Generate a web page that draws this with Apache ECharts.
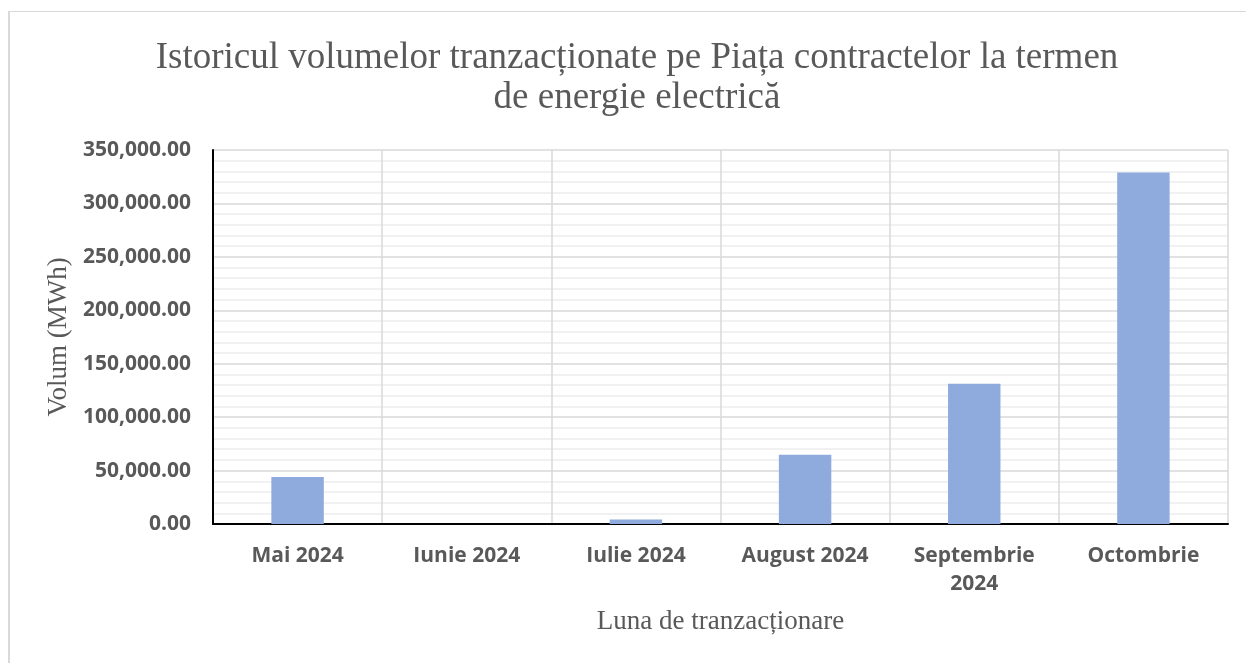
<!DOCTYPE html>
<html>
<head>
<meta charset="utf-8">
<script src="https://cdn.jsdelivr.net/npm/echarts@6/dist/echarts.min.js"></script>
<style>
html,body{margin:0;padding:0;background:#fff;}
#chart{width:1246px;height:663px;}
</style>
</head>
<body>
<div id="chart"></div>
<script>
const categories = ['Mai 2024', 'Iunie 2024', 'Iulie 2024', 'August 2024', 'Septembrie\n2024', 'Octombrie'];
const volumes = [44000, 0, 4200, 64800, 131200, 329000];
const titleText = 'Istoricul volumelor tranzacționate pe Piața contractelor la termen\nde energie electrică';
const yAxisName = 'Volum (MWh)';
const xAxisName = 'Luna de tranzacționare';

const chart = echarts.init(document.getElementById('chart'), null, {renderer: 'canvas'});
const serif = '"Liberation Serif", "Times New Roman", serif';
const sans = '"Open Sans", Calibri, sans-serif';

chart.setOption({
  animation: false,
  backgroundColor: '#ffffff',
  title: {
    text: titleText,
    left: 632,
    top: 33,
    textAlign: 'center',
    textStyle: {
      fontFamily: serif,
      fontSize: 37,
      fontWeight: 'normal',
      color: '#595959',
      lineHeight: 40
    }
  },
  graphic: [
    {type: 'line', shape: {x1: 9, y1: 11, x2: 9, y2: 663}, style: {stroke: '#d9d9d9', lineWidth: 2}},
    {type: 'line', shape: {x1: 8, y1: 11.5, x2: 1246, y2: 11.5}, style: {stroke: '#d9d9d9', lineWidth: 1}}
  ],
  grid: {left: 213, right: 18, top: 150, bottom: 139, containLabel: false},
  xAxis: {
    type: 'category',
    data: categories,
    name: xAxisName,
    nameLocation: 'middle',
    nameGap: 84,
    nameTextStyle: {fontFamily: serif, fontSize: 27, color: '#595959'},
    axisLine: {show: true, lineStyle: {color: '#000000', width: 2}},
    axisTick: {show: false},
    splitLine: {show: true, lineStyle: {color: '#d9d9d9', width: 1.5}},
    axisLabel: {
      interval: 0,
      margin: 18,
      fontFamily: sans,
      fontWeight: 'bold',
      fontSize: 21,
      lineHeight: 28,
      color: '#595959'
    }
  },
  yAxis: {
    type: 'value',
    min: 0,
    max: 350000,
    interval: 50000,
    name: yAxisName,
    nameLocation: 'middle',
    nameGap: 140,
    nameRotate: 90,
    nameTextStyle: {fontFamily: serif, fontSize: 27, color: '#595959'},
    axisLine: {show: true, lineStyle: {color: '#000000', width: 2}},
    axisTick: {show: false},
    minorTick: {show: false, splitNumber: 5},
    minorSplitLine: {show: true, lineStyle: {color: '#ededed', width: 1.5}},
    splitLine: {show: true, lineStyle: {color: '#d9d9d9', width: 1.5}},
    axisLabel: {
      margin: 22,
      fontFamily: sans,
      fontWeight: 'bold',
      fontSize: 21,
      color: '#595959',
      formatter: v => v.toLocaleString('en-US', {minimumFractionDigits: 2, maximumFractionDigits: 2})
    }
  },
  series: [{
    type: 'bar',
    data: volumes,
    barWidth: '31%',
    itemStyle: {color: '#8faadc'}
  }]
});
</script>
</body>
</html>
